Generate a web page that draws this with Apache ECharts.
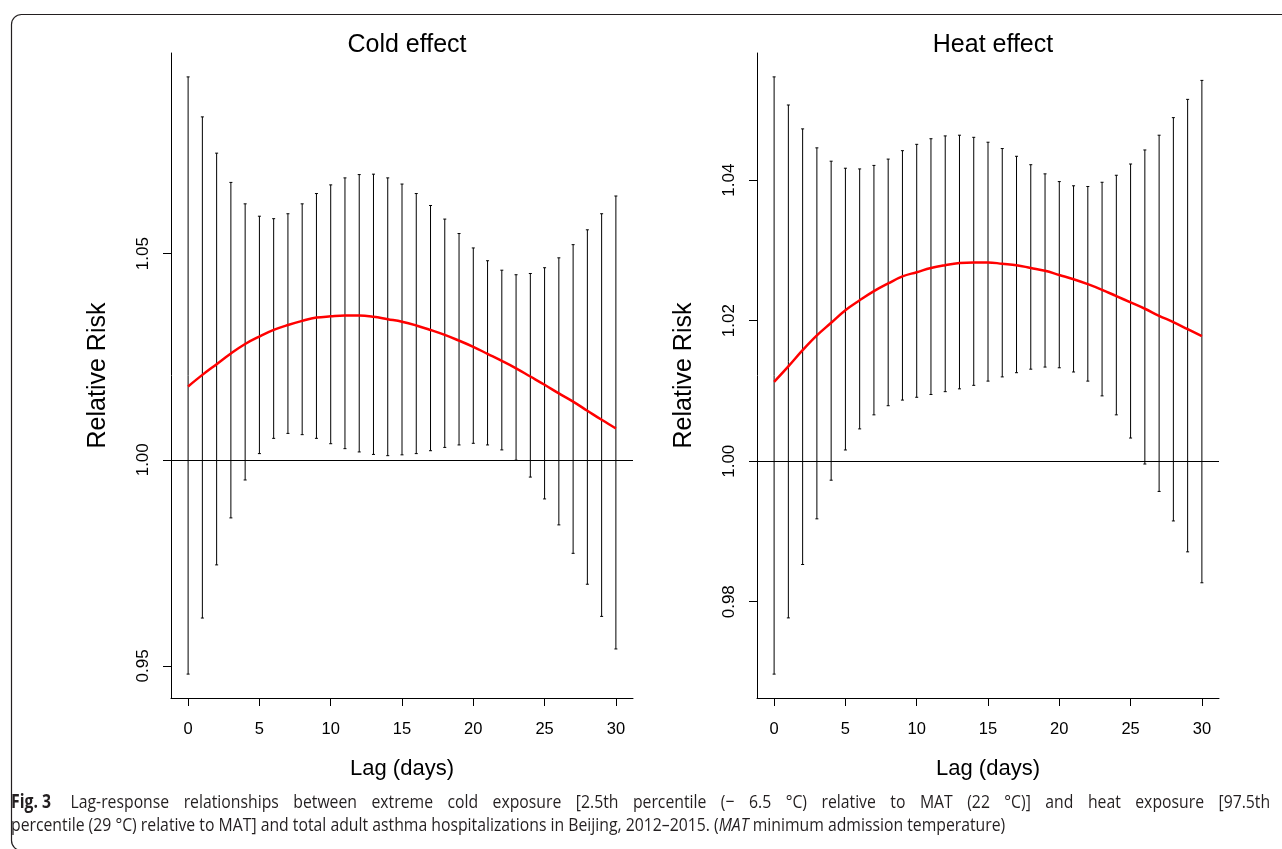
<!DOCTYPE html>
<html>
<head>
<meta charset="utf-8">
<script src="https://cdn.jsdelivr.net/npm/echarts@6/dist/echarts.min.js"></script>
<style>
html,body{margin:0;padding:0;background:#fff;}
#wrap{position:relative;width:1282px;height:849px;overflow:hidden;}
#c{width:1282px;height:849px;}
.cap{position:absolute;left:11px;font-family:'Open Sans',sans-serif;font-size:18.8px;line-height:24px;color:#231f20;
  transform:scaleX(0.84);transform-origin:0 0;white-space:nowrap;}
#cap1{top:789px;width:1499px;text-align:justify;text-align-last:justify;white-space:normal;}
#cap2{top:812px;}
.fig{display:inline-block;font-weight:700;margin-right:6px;}
</style>
</head>
<body>
<div id="wrap">
<div id="c"></div>
<div class="cap" id="cap1"><span class="fig">Fig.&nbsp;3</span> Lag-response relationships between extreme cold exposure [2.5th percentile (− 6.5 °C) relative to MAT (22 °C)] and heat exposure [97.5th</div>
<div class="cap" id="cap2">percentile (29 °C) relative to MAT] and total adult asthma hospitalizations in Beijing, 2012–2015. (<i>MAT</i> minimum admission temperature)</div>
</div>
<script>
const lags = [0,1,2,3,4,5,6,7,8,9,10,11,12,13,14,15,16,17,18,19,20,21,22,23,24,25,26,27,28,29,30];
const xTicks = [0,5,10,15,20,25,30];
const coldTicks = [0.95,1.00,1.05];
const heatTicks = [0.98,1.00,1.02,1.04];

const coldRR = [1.0178,1.0206,1.0232,1.0258,1.0281,1.0299,1.0315,1.0327,1.0337,1.0345,1.0348,1.0350,1.0350,1.0347,1.0341,1.0335,1.0326,1.0315,1.0303,1.0289,1.0274,1.0257,1.0240,1.0222,1.0202,1.0182,1.0161,1.0141,1.0119,1.0097,1.0076];
const coldLow = [0.9480,0.9616,0.9745,0.9859,0.9951,1.0015,1.0052,1.0064,1.0061,1.0052,1.0039,1.0027,1.0019,1.0013,1.0010,1.0012,1.0015,1.0022,1.0030,1.0036,1.0040,1.0036,1.0024,0.9999,0.9958,0.9905,0.9842,0.9773,0.9698,0.9620,0.9541];
const coldHigh = [1.0929,1.0832,1.0744,1.0673,1.0621,1.0591,1.0585,1.0597,1.0621,1.0646,1.0667,1.0684,1.0692,1.0693,1.0684,1.0669,1.0646,1.0617,1.0584,1.0549,1.0514,1.0483,1.0460,1.0449,1.0452,1.0466,1.0490,1.0522,1.0558,1.0597,1.0640];

const heatRR = [1.0113,1.0135,1.0158,1.0179,1.0197,1.0215,1.0229,1.0242,1.0253,1.0263,1.0269,1.0275,1.0279,1.0282,1.0283,1.0283,1.0281,1.0279,1.0275,1.0271,1.0265,1.0259,1.0252,1.0244,1.0235,1.0226,1.0217,1.0207,1.0198,1.0188,1.0178];
const heatLow = [0.9697,0.9777,0.9853,0.9918,0.9973,1.0016,1.0046,1.0066,1.0079,1.0087,1.0091,1.0095,1.0099,1.0103,1.0108,1.0114,1.0120,1.0126,1.0131,1.0134,1.0133,1.0127,1.0114,1.0093,1.0066,1.0033,0.9996,0.9957,0.9915,0.9871,0.9827];
const heatHigh = [1.0547,1.0507,1.0473,1.0446,1.0427,1.0417,1.0416,1.0421,1.0430,1.0442,1.0451,1.0459,1.0463,1.0464,1.0461,1.0454,1.0445,1.0434,1.0422,1.0409,1.0398,1.0392,1.0391,1.0397,1.0407,1.0423,1.0443,1.0464,1.0489,1.0515,1.0542];

const FONT = 'Liberation Sans, Arial, sans-serif';
const chart = echarts.init(document.getElementById('c'), null, {renderer:'canvas'});

function errRender(params, api){
  const x = api.value(0), lo = api.value(1), hi = api.value(2);
  const p1 = api.coord([x, lo]), p2 = api.coord([x, hi]);
  const s = {stroke:'#000', lineWidth:1};
  return {type:'group', children:[
    {type:'line', shape:{x1:p1[0], y1:p1[1], x2:p2[0], y2:p2[1]}, style:s},
    {type:'line', shape:{x1:p1[0]-1.5, y1:p1[1], x2:p1[0]+1.5, y2:p1[1]}, style:s},
    {type:'line', shape:{x1:p2[0]-1.5, y1:p2[1], x2:p2[0]+1.5, y2:p2[1]}, style:s}
  ]};
}

function xAxisDef(gi){
  return {
    gridIndex: gi, type:'value', min:-1.2, max:31.2,
    axisLine:{show:true, onZero:false, lineStyle:{color:'#000', width:1}},
    axisTick:{show:true, customValues:xTicks, length:8, lineStyle:{color:'#000'}},
    axisLabel:{customValues:xTicks, color:'#000', fontSize:16.5, fontFamily:FONT, margin:23},
    splitLine:{show:false},
    name:'Lag (days)', nameLocation:'middle', nameGap:60,
    nameTextStyle:{color:'#000', fontSize:22, fontFamily:FONT}
  };
}
function yAxisDef(gi, min, max, ticks){
  return {
    gridIndex: gi, type:'value', min:min, max:max,
    axisLine:{show:true, onZero:false, lineStyle:{color:'#000', width:1}},
    axisTick:{show:true, customValues:ticks, length:8, lineStyle:{color:'#000'}},
    axisLabel:{customValues:ticks, color:'#000', fontSize:17, fontFamily:FONT, rotate:90, margin:19,
      formatter:function(v){return Number(v).toFixed(2);}},
    splitLine:{show:false},
    name:'Relative Risk', nameLocation:'middle', nameGap:60,
    nameTextStyle:{color:'#000', fontSize:25, fontFamily:FONT}
  };
}

const refLine = {silent:true, symbol:['none','none'], label:{show:false},
  lineStyle:{color:'#000', width:1, type:'solid'}, data:[{yAxis:1}]};

chart.setOption({
  animation:false,
  backgroundColor:'#fff',
  title:[
    {text:'Cold effect', left:402, top:28, textAlign:'center',
      textStyle:{color:'#000', fontSize:25, fontWeight:'normal', fontFamily:FONT}},
    {text:'Heat effect', left:988, top:28, textAlign:'center',
      textStyle:{color:'#000', fontSize:25, fontWeight:'normal', fontFamily:FONT}}
  ],
  grid:[
    {left:171, top:53, width:462, height:645},
    {left:757, top:53, width:462, height:645}
  ],
  xAxis:[xAxisDef(0), xAxisDef(1)],
  yAxis:[yAxisDef(0, 0.9422, 1.0987, coldTicks), yAxisDef(1, 0.9663, 1.0581, heatTicks)],
  series:[
    {type:'custom', xAxisIndex:0, yAxisIndex:0, renderItem:errRender,
      data: lags.map((l,i)=>[l, coldLow[i], coldHigh[i]]), z:2,
      markLine: refLine},
    {type:'line', xAxisIndex:0, yAxisIndex:0, data: lags.map((l,i)=>[l, coldRR[i]]),
      smooth:0.4, showSymbol:false, lineStyle:{color:'#ff0000', width:2.5}, z:3},
    {type:'custom', xAxisIndex:1, yAxisIndex:1, renderItem:errRender,
      data: lags.map((l,i)=>[l, heatLow[i], heatHigh[i]]), z:2,
      markLine: refLine},
    {type:'line', xAxisIndex:1, yAxisIndex:1, data: lags.map((l,i)=>[l, heatRR[i]]),
      smooth:0.4, showSymbol:false, lineStyle:{color:'#ff0000', width:2.5}, z:3}
  ],
  graphic:[
    {type:'rect', left:9, top:12, shape:{x:0, y:0, width:1300, height:836, r:10},
      style:{fill:'none', stroke:'#231f20', lineWidth:1.2}, silent:true, z:-1}
  ]
});
</script>
</body>
</html>
